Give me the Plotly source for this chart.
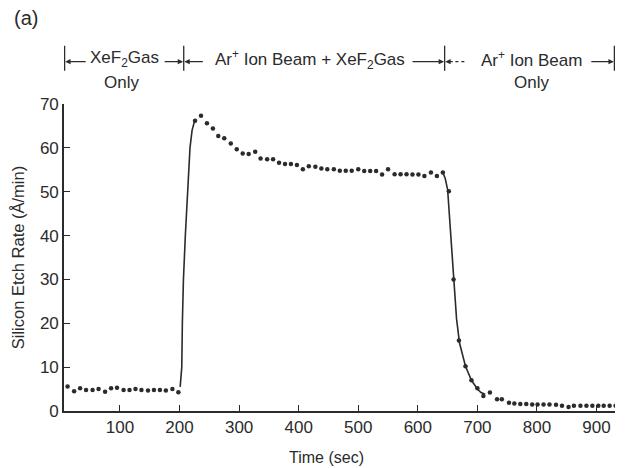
import plotly.graph_objects as go

# measured etch rate points (time in sec, rate in A/min)
gas_t = [12, 23, 33, 43, 54, 64, 75, 85, 95, 106, 116, 126, 136, 147, 157, 167, 177, 188, 198]
gas_v = [5.6, 4.5, 5.2, 4.8, 4.8, 5.0, 4.4, 5.2, 5.3, 4.8, 4.8, 5.0, 4.8, 4.7, 4.8, 4.8, 4.7, 5.0, 4.3]

ion_gas_t = [226, 236, 246, 256, 265, 275, 286, 296, 306, 316, 327, 336, 347, 357, 367, 377, 387, 397,
             407, 417, 428, 438, 448, 459, 469, 479, 489, 500, 510, 520, 530, 540, 550, 561, 571, 581,
             591, 601, 611, 622, 632, 642]
ion_gas_v = [66.2, 67.3, 65.6, 64.4, 62.7, 62.2, 61.0, 59.7, 58.7, 58.6, 59.1, 57.6, 57.4, 57.4, 56.6,
             56.3, 56.3, 56.1, 55.1, 55.8, 55.7, 55.3, 55.1, 55.1, 54.8, 54.8, 54.8, 55.1, 54.7, 54.7,
             54.7, 53.9, 55.1, 54.0, 54.0, 54.0, 53.9, 53.9, 53.6, 54.4, 53.6, 54.4]

ion_t = [652, 660, 669, 680, 690, 700, 710, 721, 733, 741, 753, 762, 772, 782, 792, 801, 811, 821,
         832, 842, 853, 862, 873, 883, 893, 903, 912, 922, 932]
ion_v = [50.1, 30.0, 16.1, 10.2, 7.0, 5.2, 3.4, 4.2, 2.7, 2.7, 1.9, 1.7, 1.6, 1.6, 1.5, 1.5, 1.5, 1.5,
         1.4, 1.2, 0.9, 1.2, 1.2, 1.2, 1.2, 1.2, 1.2, 1.2, 1.2]

# hand drawn curves
rise_t = [201, 203.7, 204.7, 206.5, 209.7, 213, 217.5, 221, 225]
rise_v = [5.5, 10, 20, 30, 40, 50, 60, 64, 66]
fall_t = [642, 646, 650, 655, 660, 665, 670, 680, 690, 700, 706, 713]
fall_v = [54.4, 53.0, 50.5, 41, 30, 21, 15.5, 10.2, 7.0, 5.0, 4.2, 3.8]

# phase boundaries (sec)
bounds_t = [7, 207, 645, 930]

ink = '#2b2b2b'
font = 'Liberation Sans, Arial, sans-serif'

fig = go.Figure()
for t, v in [(rise_t, rise_v), (fall_t, fall_v)]:
    fig.add_trace(go.Scatter(x=t, y=v, mode='lines', line=dict(color=ink, width=1.6)))
for t, v in [(gas_t, gas_v), (ion_gas_t, ion_gas_v), (ion_t, ion_v)]:
    fig.add_trace(go.Scatter(x=t, y=v, mode='markers', marker=dict(color=ink, size=4.5)))

# header: phase bars
for b in bounds_t:
    fig.add_shape(type='line', xref='x', yref='paper', x0=b, x1=b, y0=1.108, y1=1.19,
                  line=dict(color=ink, width=1.3))

hy = 1.146
header = [
    (108, 'XeF<sub>2</sub>Gas'),
    (419, 'Ar<sup>+</sup> Ion Beam + XeF<sub>2</sub>Gas'),
    (791, 'Ar<sup>+</sup> Ion Beam'),
]
for x, txt in header:
    fig.add_annotation(x=x, y=hy, xref='x', yref='paper', text=txt, showarrow=False,
                       xanchor='center', yanchor='middle',
                       font=dict(size=17, color=ink, family=font))
for x in [103, 790]:
    fig.add_annotation(x=x, y=1.07, xref='x', yref='paper', text='Only', showarrow=False,
                       xanchor='center', yanchor='middle',
                       font=dict(size=17, color=ink, family=font))

# header arrows: (head at bar, tail offset in px)
arrows = [(bounds_t[0] + 1, 22), (bounds_t[1] - 1, -20), (bounds_t[1] + 1, 20),
          (bounds_t[2] - 1, -33), (bounds_t[2] + 1, 9), (bounds_t[3] - 1, -24)]
for x, off in arrows:
    fig.add_annotation(x=x, y=hy - 0.008, xref='x', yref='paper', ax=off, ay=0, text='',
                       showarrow=True, arrowhead=2, arrowsize=0.9, arrowwidth=1.2, arrowcolor=ink)
# dashed bit of the third left arrow
fig.add_shape(type='line', xref='x', yref='paper', x0=663, x1=683, y0=hy - 0.008, y1=hy - 0.008,
              line=dict(color=ink, width=1.2, dash='3px,3px'))

fig.add_annotation(x=-0.069, y=1.28, xref='paper', yref='paper', text='(a)', showarrow=False,
                   xanchor='center', yanchor='middle',
                   font=dict(size=20, color=ink, family=font))
fig.add_annotation(x=-0.084, y=0.5, xref='paper', yref='paper', text='Silicon Etch Rate (Å/min)',
                   textangle=-90, showarrow=False, xanchor='center', yanchor='middle',
                   font=dict(size=16.5, color=ink, family=font))
fig.add_annotation(x=0.477, y=-0.153, xref='paper', yref='paper', text='Time (sec)',
                   showarrow=False, xanchor='center', yanchor='middle',
                   font=dict(size=16, color=ink, family=font))

fig.update_xaxes(range=[6, 931], tickvals=[100, 200, 300, 400, 500, 600, 700, 800, 900],
                 ticks='inside', ticklen=6, tickwidth=1.2, tickcolor=ink,
                 showline=True, linecolor=ink, linewidth=1.6, showgrid=False, zeroline=False,
                 automargin=False, tickfont=dict(size=17, color=ink, family=font))
fig.update_yaxes(range=[0, 70], tickvals=[0, 10, 20, 30, 40, 50, 60, 70],
                 ticks='inside', ticklen=6, tickwidth=1.2, tickcolor=ink,
                 showline=True, linecolor=ink, linewidth=1.6, showgrid=False, zeroline=False,
                 automargin=False, tickfont=dict(size=17, color=ink, family=font))

# page body adds 8px, so the figure is 8px smaller and the margins shift
fig.update_layout(template='none', width=626, height=460, showlegend=False,
                  margin=dict(l=56, r=19, t=96, b=57),
                  paper_bgcolor='white', plot_bgcolor='white')

fig.write_html("out.html")
